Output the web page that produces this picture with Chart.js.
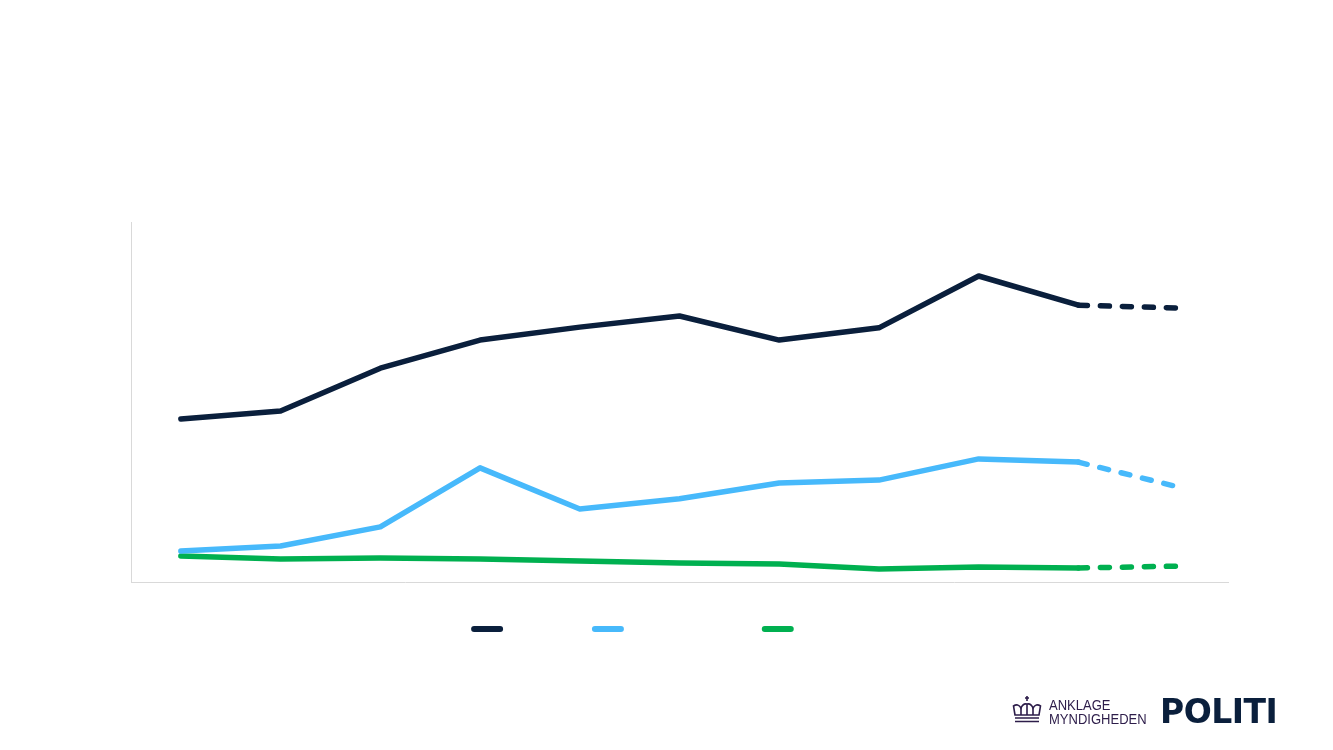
<!DOCTYPE html>
<html>
<head>
<meta charset="utf-8">
<script src="https://cdn.jsdelivr.net/npm/chart.js@4.4.1/dist/chart.umd.min.js"></script>
<style>
  body { margin: 0; background: #fff; }
  #wrap { position: absolute; left: 0; top: 0; width: 1333px; height: 750px; }
  .logo { position: absolute; }
  #ankl { left: 1049px; top: 698px; color: #2d1d4a; font-family: "Liberation Sans", Arial, sans-serif; font-size: 14px; line-height: 14px; transform: scaleX(0.93); transform-origin: left; }
  #politi { left: 1160px; top: 692px; color: #0a1f3c; font-family: "DejaVu Sans", sans-serif; font-size: 33px; font-weight: bold; letter-spacing: -0.5px; }
  #crown { position: absolute; left: 1012px; top: 695px; }
</style>
</head>
<body>
<div id="wrap"><canvas id="myChart"></canvas></div>

<svg id="crown" width="30" height="30" viewBox="0 0 30 30">
  <g fill="none" stroke="#2d1d4a" stroke-width="1.6">
    <path d="M15 1 v5 M13 3 h4"/>
    <path d="M3 20 L1.5 11 Q6 8 9 13 Q11 8 15 9 Q19 8 21 13 Q24 8 28.5 11 L27 20 Z"/>
    <path d="M15 9 V20 M9 13 L9 20 M21 13 L21 20"/>
    <path d="M3 23 H27 M3 26.5 H27"/>
  </g>
</svg>
<div class="logo" id="ankl">ANKLAGE<br>MYNDIGHEDEN</div>
<div class="logo" id="politi">POLITI</div>

<script>
const years = ['2014', '2015', '2016', '2017', '2018', '2019', '2020', '2021', '2022', '2023', '2024'];
const seriesNames = ['Anmeldelser', 'Sigtelser og anklage', 'Domfældelser'];
const navy = [45.3, 47.5, 59.4, 67.2, 70.8, 73.9, 67.2, 70.6, 85.0, 76.9, 76.1];
const lightBlue = [8.6, 10.0, 15.3, 31.7, 20.3, 23.1, 27.5, 28.3, 34.2, 33.3, 26.4];
const green = [7.2, 6.4, 6.7, 6.4, 5.8, 5.3, 5.0, 3.6, 4.2, 3.9, 4.4];
const colours = ['#0a1f3c', '#47b9fb', '#00b050'];

// last segment is a projection -> dashed
const lastSeg = years.length - 2;
function makeSet(label, values, colour) {
  return {
    label: label,
    data: values,
    borderColor: colour,
    backgroundColor: colour,
    borderWidth: 5.5,
    borderCapStyle: 'round',
    borderJoinStyle: 'round',
    pointRadius: 0,
    pointHoverRadius: 0,
    tension: 0,
    segment: {
      borderDash: ctx => ctx.p0DataIndex === lastSeg ? [9, 13] : undefined
    }
  };
}

const data = {
  labels: years,
  datasets: [
    makeSet(seriesNames[0], navy, colours[0]),
    makeSet(seriesNames[1], lightBlue, colours[1]),
    makeSet(seriesNames[2], green, colours[2])
  ]
};

const config = {
  type: 'line',
  data: data,
  options: {
    responsive: false,
    animation: false,
    layout: {
      padding: { top: 222, left: 131, right: 105, bottom: 104 }
    },
    plugins: {
      tooltip: { enabled: false },
      legend: {
        position: 'bottom',
        labels: {
          usePointStyle: true,
          pointStyleWidth: 26,
          boxHeight: 6,
          padding: 10,
          color: '#ffffff',
          font: { family: 'Liberation Sans', size: 14 },
          generateLabels: chart => chart.data.datasets.map((ds, i) => ({
            text: ds.label,
            fillStyle: ds.borderColor,
            strokeStyle: ds.borderColor,
            lineWidth: 6,
            lineCap: 'round',
            pointStyle: 'line',
            fontColor: '#ffffff',
            datasetIndex: i
          }))
        }
      }
    },
    scales: {
      x: {
        offset: true,
        grid: { display: false },
        border: { display: true, color: '#d9d9d9', width: 1 },
        ticks: { display: false },
        afterFit: scale => { scale.height = 30; }
      },
      y: {
        min: 0,
        max: 100,
        grid: { display: false },
        border: { display: true, color: '#d9d9d9', width: 1 },
        ticks: { display: false },
        afterFit: scale => { scale.width = 0; }
      }
    }
  }
};

const cv = document.getElementById('myChart');
cv.width = 1333;
cv.height = 750;
const myChart = new Chart(cv, config);
</script>
</body>
</html>
